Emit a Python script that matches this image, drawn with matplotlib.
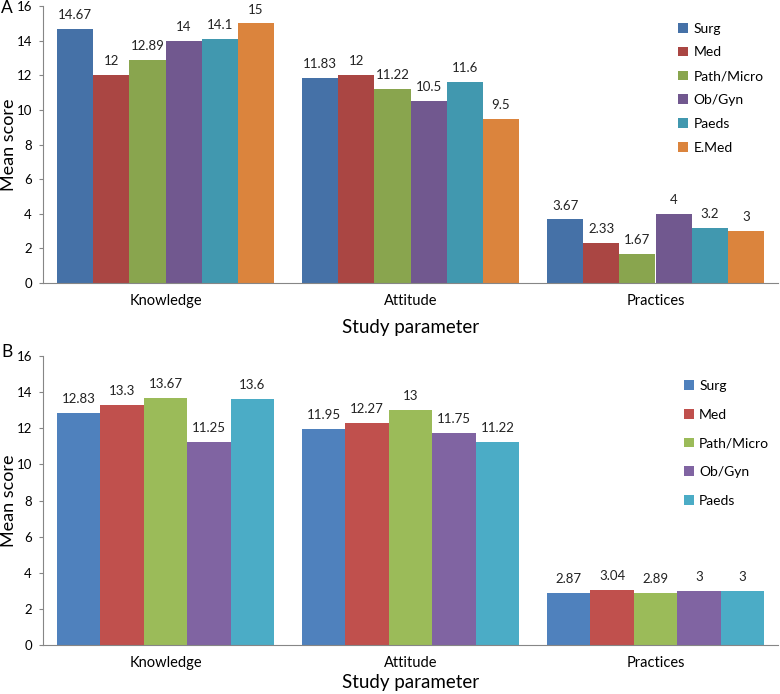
import matplotlib.pyplot as plt
import numpy as np

plt.rcParams['font.family'] = ['Lato', 'DejaVu Sans']

categories = ["Knowledge", "Attitude", "Practices"]

# panel A
groups_a = ["Surg", "Med", "Path/Micro", "Ob/Gyn", "Paeds", "E.Med"]
scores_a = [
    [14.67, 11.83, 3.67],
    [12, 12, 2.33],
    [12.89, 11.22, 1.67],
    [14, 10.5, 4],
    [14.1, 11.6, 3.2],
    [15, 9.5, 3],
]
colors_a = ["#4571A7", "#AA4643", "#89A54E", "#71588F", "#4198AF", "#DB843D"]

# panel B
groups_b = ["Surg", "Med", "Path/Micro", "Ob/Gyn", "Paeds"]
scores_b = [
    [12.83, 11.95, 2.87],
    [13.3, 12.27, 3.04],
    [13.67, 13, 2.89],
    [11.25, 11.75, 3],
    [13.6, 11.22, 3],
]
colors_b = ["#4F81BD", "#C0504D", "#9BBB59", "#8064A2", "#4BACC6"]


def panel(ax, groups, scores, colors, xlab_y, leg_anchor, leg_spacing):
    n = len(groups)
    x = np.arange(len(categories))
    group_w = 0.886
    w = group_w / n
    for i in range(n):
        pos = x - group_w / 2 + w * (i + 0.5)
        bars = ax.bar(pos, scores[i], w, color=colors[i], label=groups[i])
        for b, v in zip(bars, scores[i]):
            ax.text(b.get_x() + b.get_width() / 2, v + 0.45, "{:g}".format(v),
                    ha="center", va="bottom", fontsize=9.5, color="#222222")
    ax.set_xlim(-0.5, len(categories) - 0.5)
    ax.set_ylim(0, 16)
    ax.set_yticks(range(0, 17, 2))
    ax.set_xticks(x)
    ax.set_xticklabels(categories, fontsize=10.5)
    ax.tick_params(axis="x", length=0, pad=8)
    ax.tick_params(axis="y", length=3, color="#868686", labelsize=9.5, pad=5)
    for s in ["top", "right"]:
        ax.spines[s].set_visible(False)
    ax.spines["left"].set_color("#868686")
    ax.spines["bottom"].set_color("#868686")
    ax.set_ylabel("Mean score", fontsize=13, va="center")
    ax.yaxis.set_label_coords(-8 / 735 * 4.3, 0.5)
    ax.set_xlabel("Study parameter", fontsize=13.5, va="center")
    ax.xaxis.set_label_coords(0.5, xlab_y)
    ax.legend(loc="upper left", bbox_to_anchor=leg_anchor, frameon=False,
              fontsize=10, handlelength=0.7, handleheight=0.7, handletextpad=0.4,
              labelspacing=leg_spacing)


fig = plt.figure(figsize=(7.8, 6.94), dpi=100)
ax_a = fig.add_axes([43 / 780, 411 / 694, 735 / 780, 277 / 694])
ax_b = fig.add_axes([43 / 780, 49 / 694, 735 / 780, 289 / 694])

panel(ax_a, groups_a, scores_a, colors_a, -0.159, (0.847, 0.985), 0.85)
panel(ax_b, groups_b, scores_b, colors_b, -0.131, (0.855, 0.96), 1.2)

fig.text(1 / 780, 1 - 8 / 694, "A", fontsize=12.5, ha="left", va="center")
fig.text(1 / 780, 1 - 352 / 694, "B", fontsize=12.5, ha="left", va="center")

fig.savefig("out.png", dpi=100)
